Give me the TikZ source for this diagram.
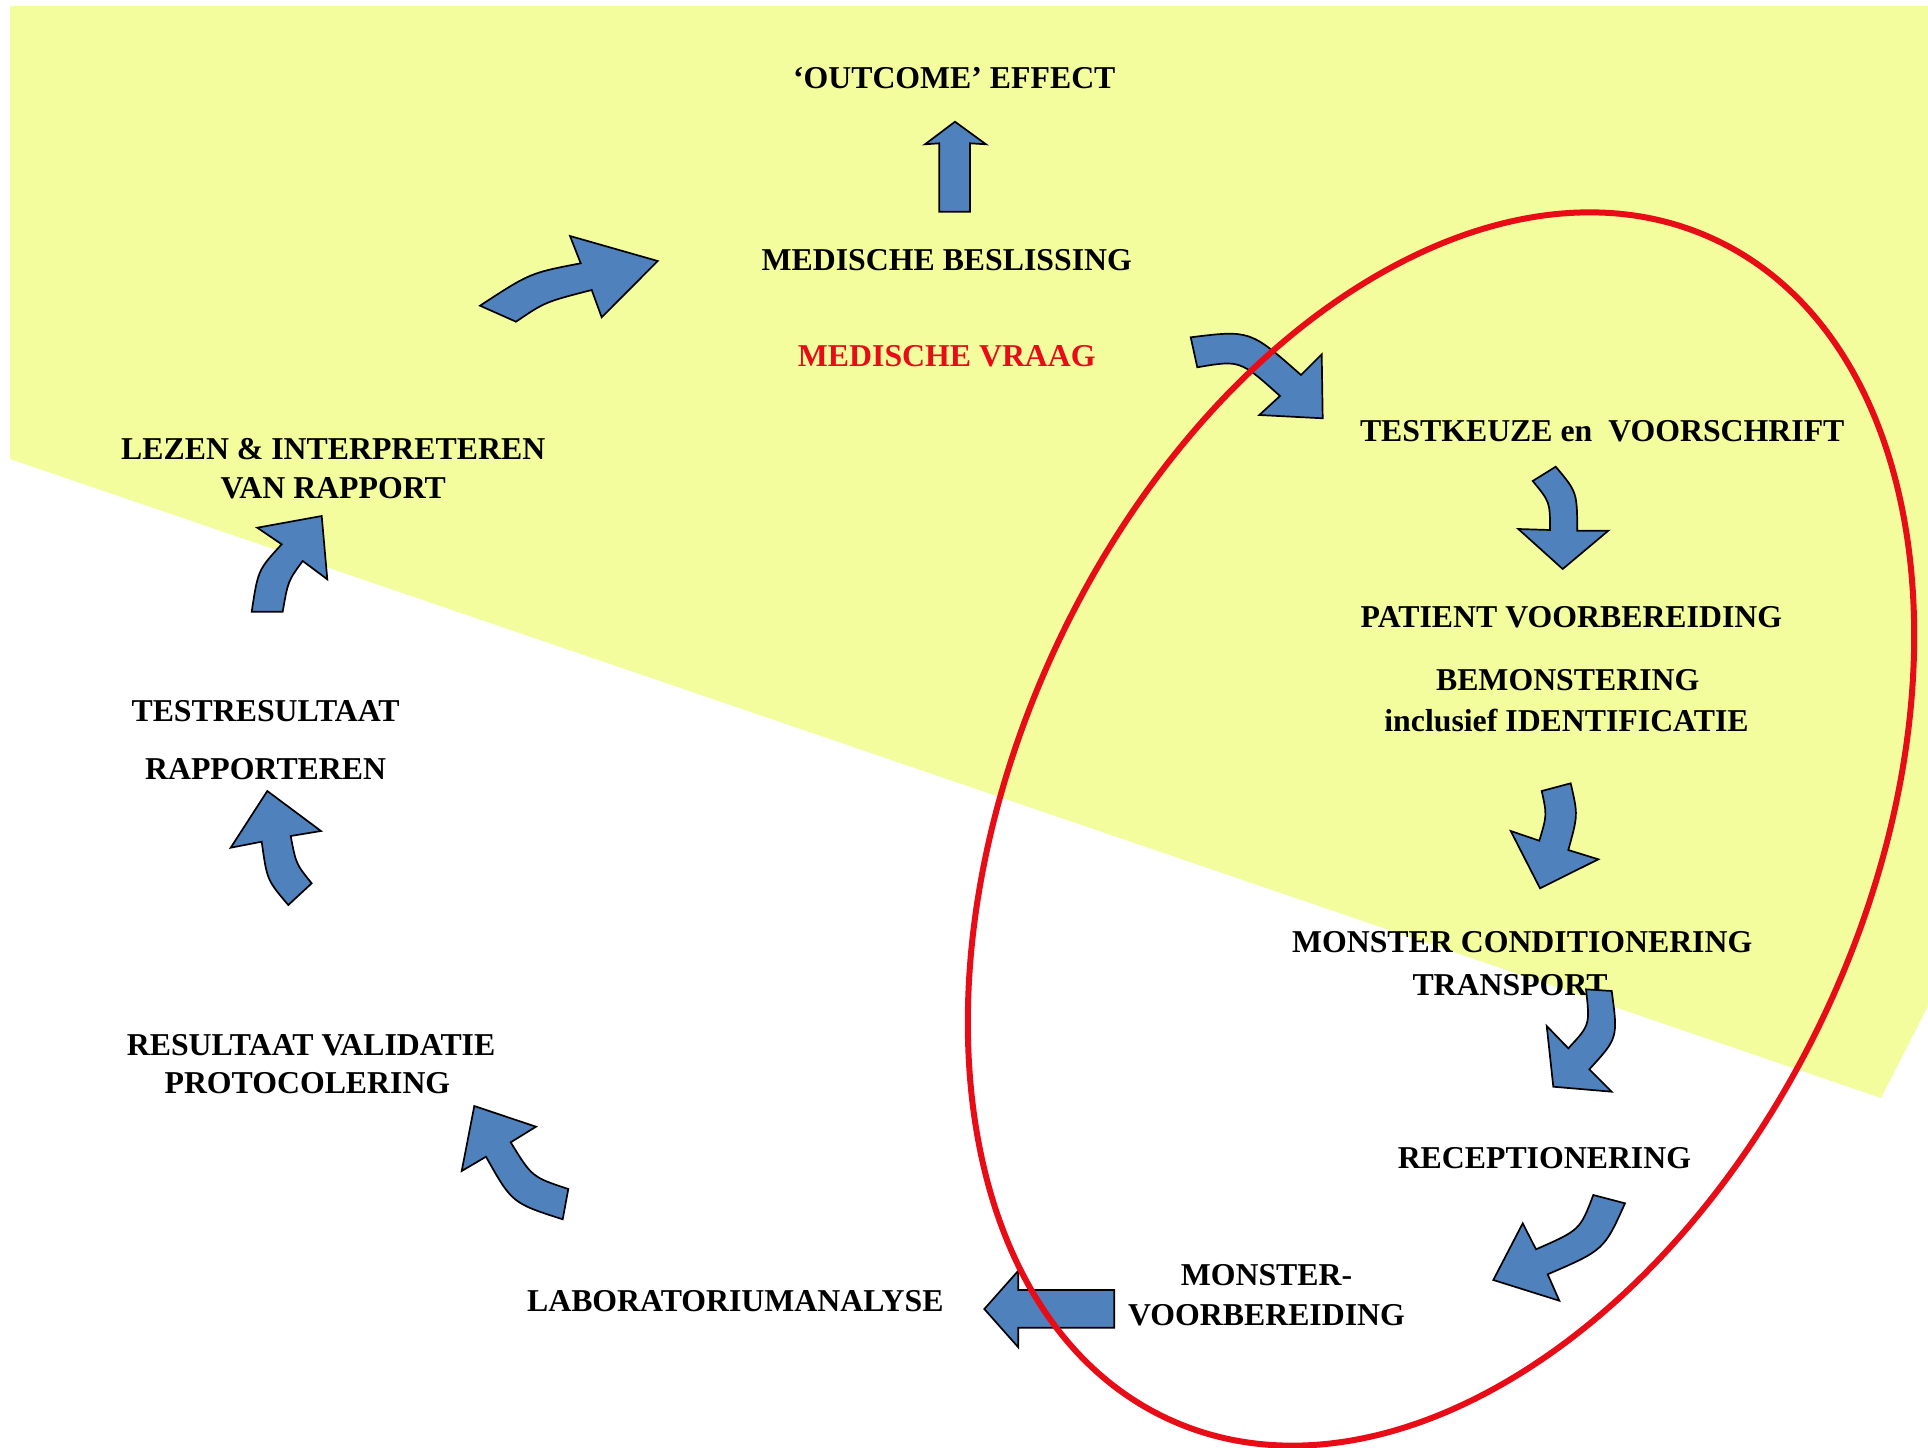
\documentclass[tikz,border=0pt]{standalone}
\usepackage{fontspec}
\setmainfont{Liberation Serif}
\begin{document}
\begin{tikzpicture}[x=1pt,y=-1pt,
  lbl/.style={anchor=base, yshift=-10.6pt, inner sep=0pt, font=\fontsize{31.8}{36}\selectfont\bfseries},
  blk/.style={fill=arrowblue, draw=black, line width=1.7pt, line join=miter},
  ]
\definecolor{arrowblue}{RGB}{79,129,189}
\definecolor{bgyellow}{RGB}{243,253,158}
\definecolor{ringred}{RGB}{232,12,22}
\useasboundingbox (0,0) rectangle (1928,1448);
\fill[white] (0,0) rectangle (1928,1448);
% yellow band
\fill[bgyellow] (10,6) -- (1928,6) -- (1928,1006) -- (1881,1098) -- (10,459) -- cycle;

% texts
\node[lbl] (outcome) at (954.2,77.5) {‘OUTCOME’ EFFECT};
\node[lbl] (beslis) at (946.8,259.4) {MEDISCHE BESLISSING};
\node[lbl,text=ringred] (vraag) at (946.8,355.4) {MEDISCHE VRAAG};
\node[lbl] (testkeuze) at (1602.2,430.4) {TESTKEUZE en \ VOORSCHRIFT};
\node[lbl] (patient) at (1571.4,617.3) {PATIENT VOORBEREIDING};
\node[lbl] (bemon) at (1567.7,680) {BEMONSTERING};
\node[lbl] (incl) at (1566.5,720.5) {inclusief IDENTIFICATIE};
\node[lbl] (moncond) at (1522.2,941.9) {MONSTER CONDITIONERING};
\node[lbl] (transport) at (1510,984.9) {TRANSPORT};
\node[lbl] (recep) at (1544.4,1158.3) {RECEPTIONERING};
\node[lbl] (monster) at (1266.5,1275.1) {MONSTER-};
\node[lbl] (voorb) at (1266.5,1314.4) {VOORBEREIDING};
\node[lbl] (lab) at (735.3,1300.9) {LABORATORIUMANALYSE};
\node[lbl] (resval) at (311.1,1045.2) {RESULTAAT VALIDATIE};
\node[lbl] (protoc) at (307.4,1083.3) {PROTOCOLERING};
\node[lbl] (testres) at (265.6,710.7) {TESTRESULTAAT};
\node[lbl] (rapport) at (265.6,768.5) {RAPPORTEREN};
\node[lbl] (lezen) at (333.2,448.8) {LEZEN \& INTERPRETEREN};
\node[lbl] (vanrap) at (333.2,488.2) {VAN RAPPORT};

% block arrows
% 1: lezen -> beslissing
\draw[blk] (480,305.7) -- (516,321.7) .. controls (545,302) .. (591.7,290) -- (601.7,317.3) -- (657.7,261) -- (570,236) -- (580.7,263.3) .. controls (530,273) .. cycle;
% 2: vraag -> testkeuze
\draw[blk] (1190.7,337.3) -- (1197.3,367.3) .. controls (1240,360) .. (1280,396) -- (1259.3,415) -- (1322.7,418.3) -- (1321.7,354.3) -- (1301,375) .. controls (1250,330) .. cycle;
% 3: testkeuze -> patient
\draw[blk] (1532.7,481) -- (1555.7,466.7) .. controls (1577,492) .. (1577.3,530.7) -- (1608.3,530.7) -- (1562.7,569) -- (1518.3,529) -- (1550,530) .. controls (1550,502) .. cycle;
% 4: bemonstering -> monster conditionering
\draw[blk] (1541.7,791) -- (1570.7,783.3) .. controls (1578,815) .. (1568.3,850) -- (1598.3,859.3) -- (1540,888.3) -- (1510.7,831) -- (1539.3,840.7) .. controls (1547,815) .. cycle;
% 5: transport -> receptionering
\draw[blk] (1586,989.3) -- (1611.7,991) .. controls (1618,1038) .. (1589.3,1069.3) -- (1611.7,1091.7) -- (1553.3,1086.7) -- (1546.7,1026) -- (1568.3,1048.3) .. controls (1590,1025) .. cycle;
% 6: receptionering -> monster-voorbereiding
\draw[blk] (1593.3,1195) -- (1625,1203.3) .. controls (1604,1250) .. (1547.7,1274.3) -- (1559.3,1300.7) -- (1493.3,1280) -- (1522.7,1223.3) -- (1536,1249.3) .. controls (1580,1230) .. cycle;
% 7: monster-voorbereiding -> lab
\draw[blk] (1114.3,1290) -- (1114.3,1327.7) -- (1018.3,1327.7) -- (1018.3,1347.3) -- (984.3,1309) -- (1018.3,1270.7) -- (1018.3,1290) -- cycle;
% 8: lab -> resultaat validatie
\draw[blk] (562.7,1219.3) -- (568.3,1189) .. controls (532,1177) .. (510.7,1142.3) -- (536,1126.7) -- (474.3,1106) -- (461.7,1171) -- (486,1156.7) .. controls (512,1203) .. cycle;
% 9: protocolering -> testresultaat
\draw[blk] (288.3,905) -- (311.7,883.3) .. controls (296,864) .. (290.7,836) -- (321,831) -- (267.3,791) -- (230.7,847.7) -- (261.7,841.7) .. controls (267,880) .. cycle;
% 10: rapporteren -> lezen
\draw[blk] (251.7,611.7) -- (282.7,611.7) .. controls (288,581) .. (302.7,561) -- (327.3,579.3) -- (321.7,516) -- (257.3,527.7) -- (281.7,544.3) .. controls (258,570) .. cycle;
% 11: beslissing -> outcome
\draw[blk] (939.3,211.7) -- (970,211.7) -- (970,143.3) -- (986,144.3) -- (955,121.7) -- (925,144.3) -- (939.3,143.3) -- cycle;

% red ring
\draw[ringred, line width=6pt] (1441,829) ellipse[x radius=650, y radius=426, rotate=65.2];
\end{tikzpicture}
\end{document}
